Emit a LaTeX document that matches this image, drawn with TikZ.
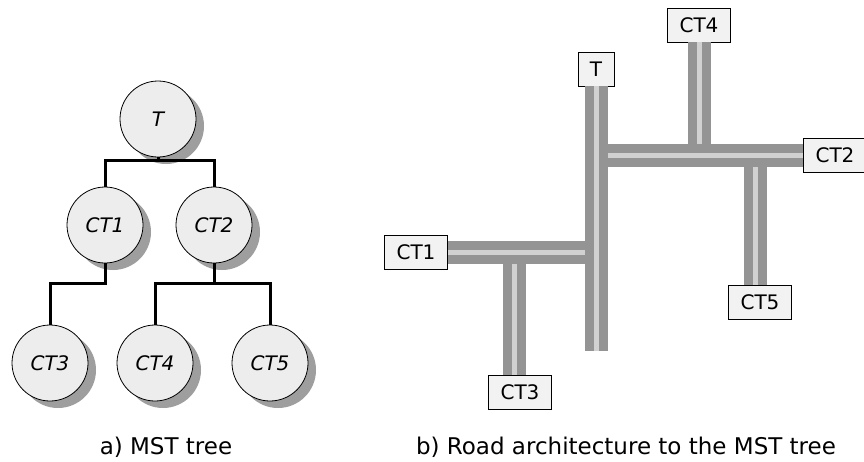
\documentclass[tikz,border=0pt]{standalone}
\usepackage{fontspec}
\setmainfont{DejaVu Sans}
\usetikzlibrary{shadows}

\tikzset{
	mstnode/.style={circle, draw, thick, fill=black!7, minimum size=76pt, inner sep=0pt,
		font=\fontsize{20}{24}\selectfont\itshape,
		drop shadow={shadow xshift=8pt, shadow yshift=-7pt, fill=black!38, opacity=1}},
	mstedge/.style={line width=3pt},
	citybox/.style={draw, fill=black!5, minimum height=34pt, inner xsep=12pt, inner ysep=0pt,
		font=\fontsize{20}{24}\selectfont},
	road/.style={draw=black!42, line width=9pt, double=black!18, double distance=5pt},
	caption/.style={font=\fontsize{23}{27}\selectfont}
}

\begin{document}
\begin{tikzpicture}[x=1pt,y=-1pt]
		\useasboundingbox (0,0) rectangle (864,461);
		% a) MST tree
		\node[mstnode] (T) at (158,119) {T};
		\node[mstnode] (CT1) at (105,225) {CT1};
		\node[mstnode] (CT2) at (214,225) {CT2};
		\node[mstnode] (CT3) at (50,363) {CT3};
		\node[mstnode] (CT4) at (155,363) {CT4};
		\node[mstnode] (CT5) at (270,363) {CT5};
		\draw[mstedge] (T.south) -- ++(0,3) -| (CT1.north);
		\draw[mstedge] (T.south) -- ++(0,3) -| (CT2.north);
		\draw[mstedge] (CT1.south) -- ++(0,20) -| (CT3.north);
		\draw[mstedge] (CT2.south) -- ++(0,20) -| (CT4.north);
		\draw[mstedge] (CT2.south) -- ++(0,20) -| (CT5.north);
		% b) road architecture
		\node[citybox] (rT) at (596,69) {T};
		\node[citybox] (rCT4) at (699,25) {CT4};
		\node[citybox] (rCT2) at (835,155) {CT2};
		\node[citybox] (rCT1) at (416,252) {CT1};
		\node[citybox] (rCT5) at (760,302) {CT5};
		\node[citybox] (rCT3) at (520,392) {CT3};
		\coordinate (jUp) at (596,155);
		\coordinate (jLow) at (596,252);
		\coordinate (j5) at (755.5,155);
		\coordinate (j3) at (514.5,252);
		\coordinate (tEnd) at (596,351);
		\draw[road] (rCT4.south) -- (rCT4.south |- jUp);
		\draw[road] (j5) -- (j5 |- rCT5.north);
		\draw[road] (j3) -- (j3 |- rCT3.north);
		\draw[road] (jUp) -- (rCT2.west);
		\draw[road] (rCT1.east) -- (jLow);
		\draw[road] (rT.south) -- (tEnd);
		% captions
		\node[caption] (capA) at (166,447) {a) MST tree};
		\node[caption] (capB) at (626,447) {b) Road architecture to the MST tree};
	\end{tikzpicture}
\end{document}
